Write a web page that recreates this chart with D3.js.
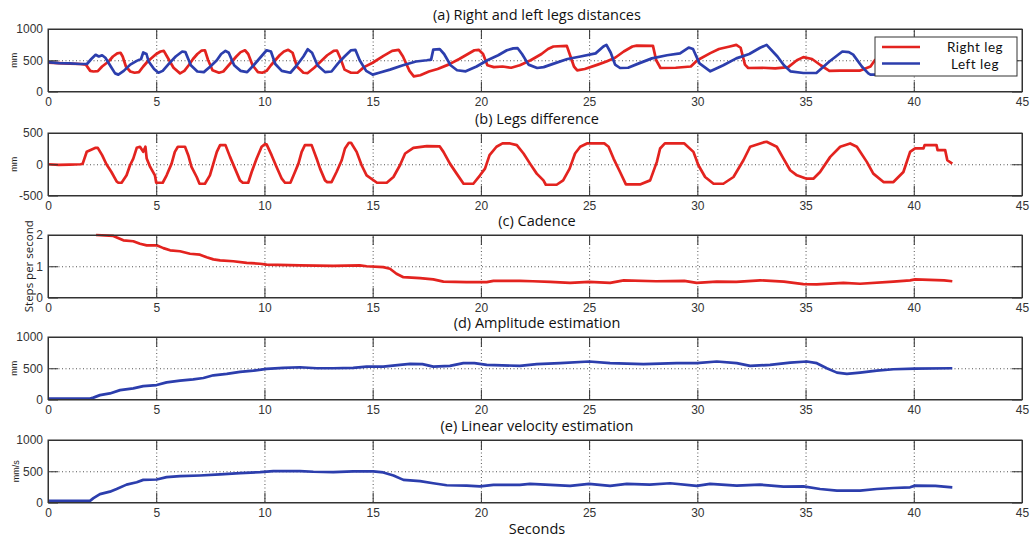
<!DOCTYPE html>
<html>
<head>
<meta charset="utf-8">
<script src="https://cdn.jsdelivr.net/npm/d3@7"></script>
<style>
  body { margin: 0; background: #fff; }
  .tick text { font-family: "Liberation Sans", Arial, sans-serif; font-size: 12px; fill: #333; }
  .title { font-family: "Open Sans", Lato, sans-serif; font-size: 14.5px; fill: #111; }
  .leg { font-family: Lato, "Open Sans", sans-serif; font-size: 13.5px; letter-spacing: 0.5px; fill: #111; }
  .ylab { font-family: "Liberation Sans", Arial, sans-serif; font-size: 9px; fill: #222; }
  .ylab.big { font-family: "Open Sans", Lato, sans-serif; font-size: 11.5px; }
</style>
</head>
<body>
<div class="chart"></div>
<script>
// Gait signals, five stacked panels

var svgWidth = 1031;
var svgHeight = 539;

// x ticks shared by every panel (seconds)
var xTicks = [0, 5, 10, 15, 20, 25, 30, 35, 40, 45];

// (a) right and left legs distances, mm  [t, value]
var rightLeg = [[0,460],[0.5,455],[1.0,445],[1.5,440],[1.75,430],[1.95,330],[2.1,320],[2.3,325],[2.5,400],[2.8,480],[3.0,560],[3.2,610],[3.35,620],[3.45,560],[3.6,400],[3.8,320],[4.0,300],[4.2,310],[4.4,400],[4.6,480],[4.8,540],[5.0,600],[5.2,640],[5.35,650],[5.5,560],[5.8,380],[6.1,290],[6.3,330],[6.5,420],[6.7,520],[6.9,600],[7.1,655],[7.25,660],[7.4,500],[7.6,340],[7.9,300],[8.1,320],[8.3,400],[8.5,480],[8.7,560],[8.9,630],[9.1,660],[9.25,600],[9.45,420],[9.7,310],[9.9,300],[10.1,330],[10.3,420],[10.5,500],[10.7,580],[10.9,640],[11.1,667],[11.3,620],[11.5,400],[11.8,300],[12.0,295],[12.3,380],[12.6,480],[12.9,580],[13.2,650],[13.35,656],[13.5,540],[13.7,350],[14.0,300],[14.3,300],[14.6,390],[15.0,460],[15.5,570],[15.9,650],[16.2,667],[16.4,560],[16.7,330],[16.9,243],[17.2,260],[17.6,320],[18.0,360],[18.5,430],[19.0,520],[19.4,600],[19.7,660],[19.9,667],[20.1,600],[20.3,420],[20.6,390],[21.0,400],[21.4,380],[21.8,420],[22.3,500],[22.8,600],[23.1,680],[23.35,720],[23.97,730],[24.1,600],[24.3,400],[24.45,339],[24.8,360],[25.4,430],[25.8,480],[26.2,540],[26.6,640],[27.0,720],[27.2,735],[27.95,730],[28.1,500],[28.3,376],[29.0,380],[29.7,400],[30.0,500],[30.6,614],[31.0,680],[31.5,720],[31.8,746],[32.0,700],[32.2,430],[32.35,376],[33.0,380],[33.6,370],[34.2,390],[34.6,500],[34.9,550],[35.3,520],[35.7,420],[36.1,330],[36.6,333],[37.5,333],[38.0,400],[38.2,500],[38.5,560],[39.5,600],[40.5,580],[41.7,500]];
var leftLeg = [[0,470],[0.5,455],[1.0,450],[1.5,440],[1.8,440],[2.0,520],[2.2,587],[2.35,560],[2.5,580],[2.65,540],[2.9,400],[3.1,290],[3.25,270],[3.5,330],[3.8,430],[4.1,490],[4.3,520],[4.4,624],[4.55,600],[4.65,480],[4.9,360],[5.1,300],[5.3,330],[5.6,450],[5.9,560],[6.2,640],[6.35,630],[6.6,420],[6.9,320],[7.2,310],[7.5,400],[7.8,500],[8.0,600],[8.2,650],[8.35,620],[8.6,420],[8.9,330],[9.2,310],[9.5,420],[9.8,540],[10.1,660],[10.3,640],[10.5,440],[10.8,330],[11.2,300],[11.5,420],[11.8,560],[12.0,677],[12.2,620],[12.45,420],[12.8,310],[13.1,320],[13.4,450],[13.7,560],[14.0,660],[14.2,667],[14.4,500],[14.7,330],[15.0,270],[15.3,300],[15.8,350],[16.4,420],[17.0,480],[17.5,500],[17.7,510],[17.8,670],[18.1,677],[18.3,600],[18.6,420],[18.9,340],[19.3,323],[19.8,400],[20.3,500],[20.8,580],[21.2,660],[21.5,690],[21.7,693],[21.9,600],[22.2,430],[22.6,376],[22.9,390],[23.4,450],[24.0,520],[24.6,560],[25.3,610],[25.66,720],[25.8,746],[26.0,620],[26.2,430],[26.43,376],[26.8,380],[27.3,450],[27.9,530],[28.6,580],[29.2,610],[29.6,703],[29.8,680],[30.1,450],[30.6,323],[31.2,420],[31.8,530],[32.4,600],[32.9,700],[33.2,746],[33.7,560],[34.0,420],[34.3,323],[34.9,296],[35.5,296],[36.1,480],[36.7,640],[37.0,630],[37.2,590],[37.6,400],[37.9,290],[38.0,270],[38.5,270],[39.5,350],[40.5,450],[41.7,500]];

// (b) legs difference, mm
var legsDiff = [[0,0],[0.5,-10],[1.0,-5],[1.5,0],[1.6,5],[1.79,200],[2.2,263],[2.3,263],[2.5,145],[2.7,0],[2.93,-124],[3.17,-275],[3.25,-296],[3.4,-296],[3.63,-177],[3.79,-16],[3.94,91],[4.1,263],[4.25,280],[4.4,200],[4.5,280],[4.56,91],[4.72,-43],[4.94,-177],[5.0,-296],[5.3,-296],[5.48,-177],[5.71,10],[5.86,198],[6.0,280],[6.33,280],[6.48,145],[6.63,-43],[6.87,-204],[7.0,-312],[7.25,-312],[7.48,-177],[7.64,10],[7.8,198],[7.95,306],[8.2,306],[8.41,118],[8.64,-70],[8.87,-258],[9.0,-296],[9.25,-296],[9.41,-124],[9.64,91],[9.87,280],[10.0,317],[10.1,317],[10.33,145],[10.56,-43],[10.8,-231],[10.95,-296],[11.2,-296],[11.41,-124],[11.57,10],[11.72,198],[11.87,306],[12.18,306],[12.41,91],[12.57,-70],[12.8,-258],[12.9,-285],[13.1,-285],[13.33,-124],[13.57,64],[13.72,252],[13.9,344],[14.0,344],[14.26,198],[14.49,-16],[14.72,-177],[15.2,-296],[15.65,-296],[15.96,-204],[16.26,-16],[16.5,172],[16.88,263],[17.5,290],[18.1,285],[18.27,198],[18.57,10],[18.88,-150],[19.2,-312],[19.65,-312],[19.96,-177],[20.19,-70],[20.4,145],[20.72,280],[21.0,333],[21.35,333],[21.66,306],[21.97,172],[22.27,10],[22.58,-150],[22.89,-258],[23.0,-328],[23.5,-328],[23.8,-258],[24.1,-70],[24.35,172],[24.59,280],[24.9,333],[25.7,333],[25.9,280],[26.13,91],[26.43,-124],[26.7,-323],[27.35,-323],[27.82,-258],[28.13,38],[28.28,252],[28.5,333],[29.4,333],[29.82,198],[30.05,-16],[30.36,-204],[30.75,-312],[31.2,-312],[31.67,-204],[32.13,64],[32.44,280],[33.05,349],[33.2,360],[33.67,280],[33.98,91],[34.29,-96],[34.6,-177],[35.05,-231],[35.36,-231],[35.67,-124],[36.14,118],[36.6,280],[37.06,333],[37.37,280],[37.83,38],[38.13,-150],[38.6,-285],[39.06,-285],[39.52,-124],[39.83,198],[40.06,253],[40.45,253],[40.5,306],[41.05,306],[41.1,226],[41.45,226],[41.55,64],[41.78,10]];

// (c) cadence, steps per second
var cadence = [[2.22,2.0],[3.02,1.97],[3.18,1.92],[3.48,1.83],[3.94,1.80],[4.25,1.72],[4.56,1.67],[5.02,1.67],[5.33,1.58],[5.64,1.51],[6.1,1.48],[6.56,1.40],[7.02,1.37],[7.33,1.29],[7.64,1.22],[7.95,1.19],[8.56,1.16],[9.18,1.11],[9.8,1.08],[10.1,1.05],[11.64,1.03],[13.18,1.01],[14.4,1.03],[14.72,1.0],[15.49,0.97],[15.8,0.92],[16.1,0.76],[16.42,0.65],[17.19,0.62],[17.8,0.58],[18.27,0.51],[19.34,0.49],[20.27,0.49],[20.58,0.53],[21.8,0.53],[22.4,0.52],[23.2,0.50],[24.12,0.47],[25.0,0.50],[25.97,0.47],[26.6,0.55],[28.1,0.52],[29.4,0.53],[29.97,0.47],[30.9,0.51],[31.8,0.50],[32.9,0.55],[34.0,0.51],[34.9,0.43],[35.52,0.42],[36.75,0.47],[37.52,0.44],[39.06,0.51],[39.83,0.55],[40.06,0.58],[41.4,0.55],[41.78,0.52]];

// (d) amplitude estimation, mm
var amplitude = [[0,16],[1.94,16],[2.1,30],[2.4,70],[2.86,97],[3.33,150],[3.94,177],[4.4,215],[5.02,231],[5.48,274],[6.1,301],[6.71,323],[7.18,344],[7.64,387],[8.26,409],[8.87,441],[9.49,462],[10.1,489],[10.87,505],[11.64,516],[12.41,500],[13.18,500],[14.1,505],[14.72,527],[15.49,527],[16.26,554],[16.73,570],[17.3,565],[17.8,527],[18.57,538],[19.19,581],[19.7,581],[20.27,554],[21.8,538],[22.58,565],[23.66,581],[25.0,608],[25.97,581],[27.51,565],[29.05,581],[29.97,581],[30.9,608],[31.82,581],[32.44,538],[33.36,554],[34.29,591],[35.06,608],[35.52,581],[35.98,500],[36.45,430],[36.91,409],[37.52,430],[38.29,462],[39.06,484],[40.06,495],[41.78,500]];

// (e) linear velocity estimation, mm/s
var velocity = [[0,27],[1.94,27],[2.1,70],[2.4,135],[2.86,173],[3.17,216],[3.63,286],[4.1,324],[4.4,362],[5.02,368],[5.48,405],[6.1,422],[7.02,432],[7.95,449],[8.87,470],[9.8,486],[10.41,503],[11.64,503],[12.26,492],[13.18,486],[14.1,497],[15.03,497],[15.49,481],[15.96,432],[16.42,362],[17.19,341],[17.8,308],[18.42,276],[19.34,270],[19.96,259],[20.58,281],[21.8,281],[22.27,297],[23.2,281],[24.12,265],[25.0,297],[25.97,265],[26.74,297],[27.8,286],[28.74,308],[29.97,265],[30.59,297],[31.82,270],[32.9,286],[33.98,254],[34.9,259],[35.67,216],[36.45,189],[37.52,189],[38.29,216],[39.06,232],[39.83,243],[40.06,270],[41.0,265],[41.78,243]];

var red = "#e3231f";
var blue = "#2c3ead";

var panels = [
  { top: 29,  title: "(a) Right and left legs distances", ylabel: "mm", labX: 17, domain: [0, 1000], ticks: [0, 500, 1000],
    series: [{ data: rightLeg, color: red }, { data: leftLeg, color: blue }] },
  { top: 133, title: "(b) Legs difference", ylabel: "mm", labX: 17, domain: [-500, 500], ticks: [-500, 0, 500],
    series: [{ data: legsDiff, color: red }] },
  { top: 235, title: "(c) Cadence", ylabel: "Steps per second", labX: 33, big: true, domain: [0, 2], ticks: [0, 1, 2],
    series: [{ data: cadence, color: red }] },
  { top: 337, title: "(d) Amplitude estimation", ylabel: "mm", labX: 17, domain: [0, 1000], ticks: [0, 500, 1000],
    series: [{ data: amplitude, color: blue }] },
  { top: 440, title: "(e) Linear velocity estimation", ylabel: "mm/s", labX: 19, domain: [0, 1000], ticks: [0, 500, 1000],
    series: [{ data: velocity, color: blue }] }
];

var left = 48, right = 1022, plotH = 62.5;
var fmt = function(d) { return String(d); };

var svg = d3.select(".chart")
  .append("svg")
  .attr("width", svgWidth)
  .attr("height", svgHeight);

var xScale = d3.scaleLinear().domain([0, 45]).range([left, right]);

panels.forEach(function(p) {
  var g = svg.append("g");
  var yScale = d3.scaleLinear().domain(p.domain).range([p.top + plotH, p.top]);
  var inner = p.ticks.slice(1, -1);

  // dotted grid
  g.append("g")
    .attr("class", "grid")
    .attr("transform", "translate(0," + (p.top + plotH) + ")")
    .call(d3.axisBottom(xScale).tickValues(xTicks.slice(1, -1)).tickSize(-plotH).tickFormat(""));
  g.append("g")
    .attr("class", "grid")
    .attr("transform", "translate(" + left + ",0)")
    .call(d3.axisLeft(yScale).tickValues(inner).tickSize(-(right - left)).tickFormat(""));
  g.selectAll(".grid .domain").remove();
  g.selectAll(".grid line")
    .attr("stroke", "#555")
    .attr("stroke-dasharray", "1,2.5");

  // lines
  var line = d3.line()
    .x(function(d) { return xScale(d[0]); })
    .y(function(d) { return yScale(d[1]); });
  p.series.forEach(function(s) {
    g.append("path")
      .datum(s.data)
      .attr("fill", "none")
      .attr("stroke", s.color)
      .attr("stroke-width", 2.7)
      .attr("stroke-linejoin", "round")
      .attr("d", line);
  });

  // inward ticks on all four sides + labels
  var tl = 10;
  var bottom = g.append("g")
    .attr("transform", "translate(0," + (p.top + plotH) + ")")
    .call(d3.axisBottom(xScale).tickValues(xTicks).tickFormat(fmt).tickSizeInner(-tl).tickSizeOuter(0).tickPadding(14));
  bottom.selectAll("text").attr("dy", "0");
  g.append("g")
    .attr("transform", "translate(0," + p.top + ")")
    .call(d3.axisTop(xScale).tickValues(xTicks).tickSizeInner(-tl).tickSizeOuter(0).tickFormat(""));
  g.append("g")
    .attr("transform", "translate(" + left + ",0)")
    .call(d3.axisLeft(yScale).tickValues(p.ticks).tickFormat(fmt).tickSizeInner(-tl).tickSizeOuter(0).tickPadding(5));
  g.append("g")
    .attr("transform", "translate(" + right + ",0)")
    .call(d3.axisRight(yScale).tickValues(p.ticks).tickSizeInner(-tl).tickSizeOuter(0).tickFormat(""));
  g.selectAll(".domain").attr("stroke", "#333");
  g.selectAll(".tick line").filter(function() { return !this.closest(".grid"); }).attr("stroke", "#333");

  // box
  g.append("rect")
    .attr("x", left).attr("y", p.top)
    .attr("width", right - left).attr("height", plotH)
    .attr("fill", "none").attr("stroke", "#333");

  g.append("text")
    .attr("class", "title")
    .attr("x", 537).attr("y", p.top - 8.7)
    .attr("text-anchor", "middle")
    .text(p.title);

  g.append("text")
    .attr("class", p.big ? "ylab big" : "ylab")
    .attr("transform", "translate(" + p.labX + "," + (p.top + plotH / 2) + ") rotate(-90)")
    .attr("text-anchor", "middle")
    .text(p.ylabel);
});

// legend for panel (a)
var legend = svg.append("g");
legend.append("rect")
  .attr("x", 875).attr("y", 37).attr("width", 142).attr("height", 39)
  .attr("fill", "#fff").attr("stroke", "#333");
var legendItems = [{ name: "Right leg", color: red }, { name: "Left leg", color: blue }];
legendItems.forEach(function(d, i) {
  var yy = 47 + i * 16.5;
  legend.append("line")
    .attr("x1", 882).attr("x2", 920).attr("y1", yy).attr("y2", yy)
    .attr("stroke", d.color).attr("stroke-width", 2.7);
  legend.append("text")
    .attr("class", "leg")
    .attr("x", 975).attr("y", yy + 5)
    .attr("text-anchor", "middle")
    .text(d.name);
});

svg.append("text")
  .attr("class", "title")
  .attr("x", 537).attr("y", 534)
  .attr("text-anchor", "middle")
  .text("Seconds");
</script>
</body>
</html>
